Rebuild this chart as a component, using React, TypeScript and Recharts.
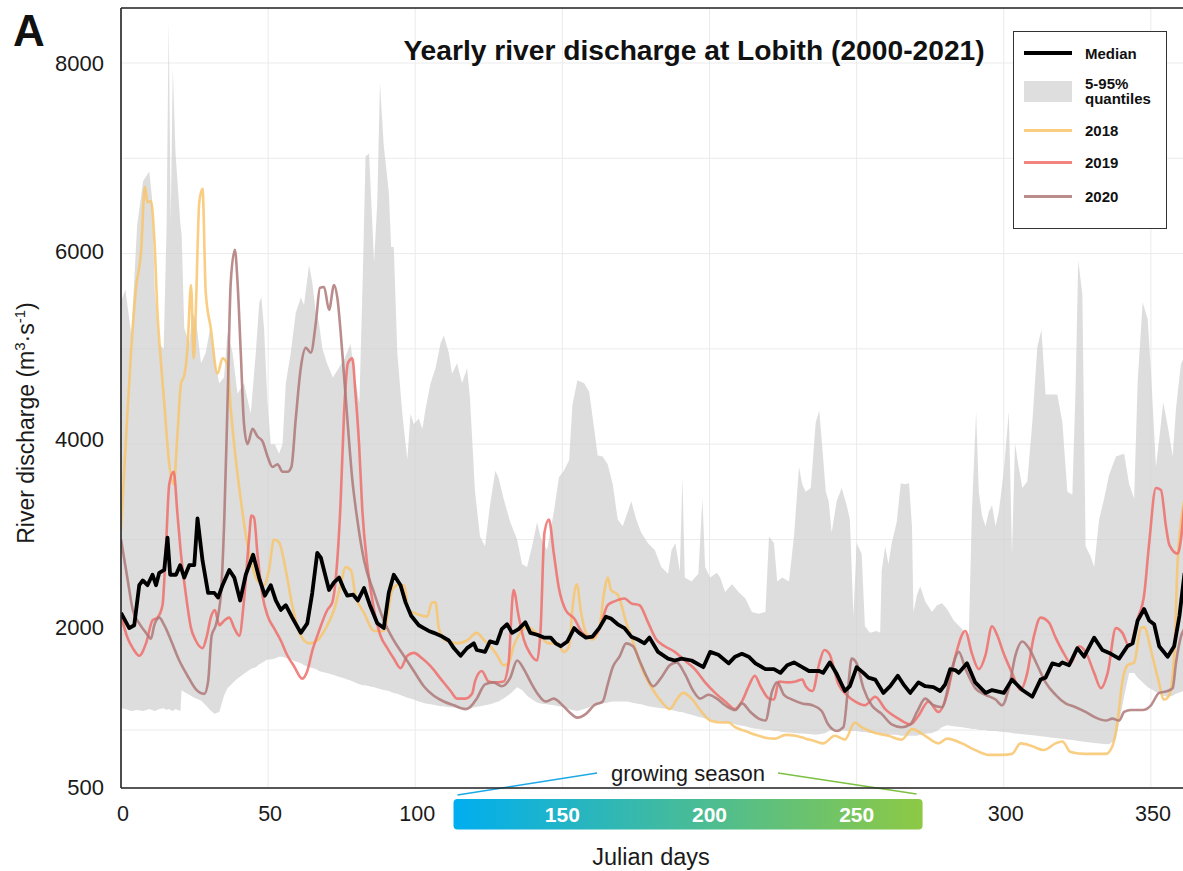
import React from 'react';
import {
  ComposedChart,
  Line,
  Area,
  XAxis,
  YAxis,
  CartesianGrid,
  Legend,
  ReferenceArea,
  ReferenceLine,
} from 'recharts';

const FONT = '"Liberation Sans", Arial, Helvetica, sans-serif';

// Rhine discharge at Lobith: [julian day, m3/s]
const median: [number, number][] = [
  [0, 2230], [2.8, 2070], [4.5, 2100], [6.2, 2520], [7.4, 2570], [9, 2520], [10.7, 2630], [11.9, 2520],
  [13, 2650], [14.7, 2680], [15.8, 3020], [16.7, 2630], [18.7, 2630], [20.1, 2730], [21.5, 2600],
  [23.2, 2730], [24.9, 2730], [26, 3220], [27.7, 2780], [29.6, 2440], [31.7, 2440], [33, 2390],
  [34.5, 2520], [36.8, 2680], [38.5, 2600], [40.5, 2360], [42.4, 2630], [44.9, 2840], [46.9, 2600],
  [48.9, 2410], [50.9, 2520], [52.6, 2360], [54.3, 2260], [56, 2310], [58.2, 2180], [61.1, 2020],
  [63.3, 2120], [65, 2440], [66.7, 2860], [67.9, 2810], [69.2, 2650], [70.7, 2470], [72.4, 2550],
  [74.1, 2600], [75.6, 2490], [76.9, 2410], [78.9, 2420], [80.5, 2360], [82.6, 2490], [84.6, 2310],
  [87.1, 2120], [89.3, 2070], [91, 2440], [92.7, 2630], [95, 2520], [96.7, 2340], [98.6, 2200],
  [101.2, 2100], [102.9, 2070], [104.6, 2040], [106.3, 2020], [108.6, 1990], [111.4, 1940],
  [113.1, 1860], [115.4, 1780], [117.6, 1860], [119.9, 1910], [120.9, 1840], [123.7, 1820],
  [125.4, 1930], [127.7, 1910], [129.4, 2060], [131.2, 2110], [132.9, 2020], [135.1, 2060],
  [137.4, 2130], [139.1, 2020], [141.4, 2000], [143.7, 1970], [146, 1970], [147.7, 1910], [149.4, 1880],
  [151.7, 1930], [154, 2070], [155.7, 2020], [158, 1970], [160.2, 1980], [162.5, 2070], [164.8, 2190],
  [166.5, 2170], [168.8, 2110], [171.1, 2070], [173.4, 1980], [175.6, 1950], [177.9, 1910],
  [179.6, 1970], [182.5, 1820], [185.9, 1750], [188.2, 1730], [190.5, 1750], [193.9, 1730],
  [197.9, 1660], [200.2, 1820], [203, 1790], [206.5, 1700], [208.7, 1770], [211, 1800], [213.3, 1770],
  [215.6, 1700], [219, 1640], [221.9, 1640], [224.1, 1600], [226.4, 1680], [228.7, 1710], [231.5, 1660],
  [233.8, 1620], [237.3, 1620], [238.6, 1600], [240.9, 1710], [243.2, 1590], [246, 1410], [247.7, 1460],
  [250, 1660], [252.3, 1600], [254, 1550], [256.3, 1530], [259.1, 1390], [261.4, 1460], [264, 1570],
  [265.9, 1480], [268.2, 1390], [271, 1500], [273.3, 1460], [276.1, 1450], [278.4, 1410], [280.1, 1480],
  [281.8, 1640], [283.5, 1630], [284.7, 1600], [287.5, 1700], [290.3, 1500], [293.8, 1390], [296, 1420],
  [300, 1390], [302.8, 1530], [306.3, 1420], [309.7, 1350], [312.5, 1530], [314.2, 1550], [316.5, 1700],
  [318.8, 1680], [319.9, 1710], [322.2, 1680], [325, 1860], [327.3, 1770], [330.7, 1970], [333.5, 1840],
  [336.4, 1800], [339.2, 1750], [342, 1880], [343.8, 1910], [345.5, 2150], [347.7, 2270], [349.4, 2150],
  [351.1, 2110], [352.8, 1880], [355.7, 1770], [357.9, 1880], [359.7, 2200], [361.4, 2640], [363, 2560],
  [366, 2520],
];

const year2018: [number, number][] = [
  [0, 3100], [1.7, 4060], [3.4, 4960], [5.1, 5640], [6.8, 6010], [8.1, 6700], [9, 6540], [10.2, 6550],
  [11.3, 6170], [12.4, 5380], [13.6, 4850], [14.7, 4430], [16.4, 3790], [17.9, 3580], [19.2, 4110],
  [20.4, 4640], [21.5, 4720], [22.6, 5010], [23.8, 5670], [24.7, 4900], [25.4, 5380], [26.6, 6540],
  [27.7, 6680], [28.8, 5590], [30.5, 5220], [32.8, 4740], [34.5, 4900], [36, 4850], [37.3, 4370],
  [39, 3840], [40.7, 3420], [42.4, 3050], [44.1, 2780], [46.4, 2570], [48.6, 2520], [50.3, 2680],
  [52, 3000], [53.7, 2970], [56, 2680], [58.2, 2310], [61.1, 1990], [63.9, 1910], [66.7, 1940],
  [69.6, 2070], [72.4, 2260], [74.6, 2520], [76.3, 2710], [78.1, 2680], [79.7, 2410], [82.6, 2230],
  [86, 2040], [89.3, 2040], [92.2, 2470], [93.9, 2520], [96.1, 2520], [97.8, 2260], [101.2, 2210],
  [104, 2190], [105.7, 2340], [106.9, 2340], [108, 2070], [110.3, 1940], [114.2, 1910], [117.6, 1940],
  [120.9, 2020], [123.2, 1950], [125.4, 1880], [127.7, 1790], [130, 1680], [131.7, 1700], [133.4, 1880],
  [135.7, 2020], [138, 2090], [140.3, 2040], [142.6, 1980], [145.4, 1910], [148.3, 1910], [150.5, 1820],
  [152.3, 1880], [153.4, 2270], [154.9, 2530], [156.3, 2240], [158, 2020], [160.2, 1950], [162.5, 2060],
  [164.2, 2450], [165.4, 2600], [166.5, 2470], [168.8, 2420], [171.7, 2130], [174.5, 1880],
  [177.4, 1620], [180.8, 1420], [183.6, 1300], [186.5, 1220], [188.8, 1320], [191.1, 1390],
  [193.9, 1330], [197.3, 1190], [200.2, 1100], [203.6, 1080], [206.5, 1080], [208.7, 1030], [212.2, 990],
  [215.6, 950], [219, 920], [222.4, 910], [225.9, 950], [229.3, 940], [232.7, 910], [236.1, 880],
  [238.6, 860], [242.6, 940], [246, 900], [249.4, 1080], [251.7, 1030], [256.3, 970], [260.8, 940],
  [265.3, 900], [268.8, 1010], [273.3, 940], [277.8, 860], [280.7, 910], [285.8, 860], [290.3, 790],
  [294.9, 740], [299.4, 740], [302.8, 750], [305.7, 860], [309.7, 830], [313.6, 790], [317.6, 860],
  [319.9, 880], [322.7, 770], [327.8, 750], [334.7, 750], [336.9, 830], [338.6, 1080], [340.3, 1510],
  [342, 1680], [344.3, 1710], [346.6, 2070], [347.7, 2080], [350, 1840], [352.3, 1550], [354.5, 1320],
  [356.3, 1370], [358, 1840], [359.1, 2780], [361.4, 3430], [364, 3900],
];

const year2019: [number, number][] = [
  [0, 2200], [2.3, 1960], [4, 1860], [6.2, 1780], [8.5, 1910], [10.7, 2150], [12.4, 2180], [14.1, 2310],
  [15.3, 2940], [16.4, 3580], [17.9, 3710], [19.2, 3260], [20.4, 2840], [22.1, 2410], [23.8, 2070],
  [25.4, 1940], [27.7, 1860], [29.2, 1990], [30.5, 2180], [31.9, 2260], [33.4, 2100], [35.1, 2150],
  [36.8, 2180], [38.5, 2070], [40.2, 1990], [41.8, 2360], [43.5, 3000], [44.3, 3250], [45.2, 3230],
  [46.4, 2840], [48.1, 2410], [49.8, 2200], [52, 2070], [54.3, 1940], [56.6, 1780], [58.8, 1670],
  [61.6, 1540], [63.3, 1620], [65, 1830], [67.3, 2040], [70.1, 2260], [71.8, 2340], [73.5, 2780],
  [74.6, 3370], [75.8, 4320], [77.1, 4850], [78.6, 4900], [79.7, 4530], [80.9, 4000], [82, 3310],
  [83.7, 2730], [86, 2260], [88.2, 1990], [90.5, 1860], [92.7, 1750], [95, 1650], [97.3, 1780],
  [99.5, 1810], [102.4, 1750], [105.2, 1670], [108.6, 1540], [112, 1410], [114.2, 1330], [117, 1330],
  [119.3, 1380], [120.3, 1510], [122.6, 1620], [124.9, 1510], [127.2, 1500], [130, 1510], [131.7, 1700],
  [133.4, 2470], [135.1, 2200], [136.9, 1950], [139.1, 1800], [141.4, 1730], [142.6, 2060], [143.9, 3070],
  [145.4, 3210], [147.1, 2850], [148.8, 2490], [151.1, 2260], [154, 2170], [156.8, 2020], [159.7, 1970],
  [162.5, 2060], [165.4, 2310], [167.7, 2350], [171.1, 2380], [173.4, 2330], [176.2, 2310], [179.1, 2130],
  [181.9, 1950], [184.8, 1880], [188.2, 1820], [191.6, 1730], [195, 1640], [198.5, 1500], [201.9, 1390],
  [205.3, 1300], [208.7, 1220], [211, 1300], [213.3, 1460], [215.4, 1570], [217.3, 1460], [220.2, 1330],
  [221.9, 1320], [223.6, 1510], [226.4, 1500], [229.3, 1510], [231.5, 1530], [232.7, 1460], [235, 1410],
  [237.3, 1700], [239, 1840], [240.7, 1800], [243.8, 1480], [246.6, 1370], [249.4, 1300], [252.8, 1260],
  [256.3, 1350], [259.7, 1220], [264.2, 1120], [268.2, 1060], [271, 1150], [274.4, 1300], [277.8, 1190],
  [280.7, 1370], [283.5, 1770], [286.9, 2040], [289.2, 1800], [291.5, 1640], [293.8, 1790], [296, 2090],
  [297.7, 2000], [300, 1800], [302.8, 1600], [305.7, 1420], [307.9, 1590], [310.2, 1980], [312.5, 2180],
  [315.3, 2130], [317.6, 1970], [320.5, 1800], [322.7, 1700], [325.6, 1880], [327.8, 1820], [330.7, 1600],
  [333, 1440], [335.3, 1600], [338.1, 2070], [340.3, 2020], [342.6, 1880], [345.5, 2170], [347.7, 2420],
  [349.4, 2960], [351.7, 3540], [353.4, 3520], [355.1, 3140], [356.3, 2940], [359.1, 2850], [360.2, 3000],
  [361.8, 3500], [364, 3800],
];

const year2020: [number, number][] = [
  [0, 3000], [2.3, 2570], [4, 2260], [6.2, 2120], [8.5, 2020], [10.2, 1960], [11.3, 2100], [13, 2180],
  [14.7, 2100], [17, 1940], [19.8, 1730], [22.6, 1570], [25.4, 1430], [28.3, 1380], [29.6, 1510],
  [30.8, 1990], [32.2, 2100], [33.9, 2410], [35.1, 3210], [36.2, 4430], [37.3, 5700], [38.7, 6040],
  [39.6, 5700], [40.7, 4960], [41.8, 4210], [43, 4000], [44.7, 4160], [46.4, 4080], [48.1, 4030],
  [49.8, 3870], [51.5, 3760], [53.2, 3790], [54.9, 3710], [56.6, 3710], [57.9, 3760], [59.4, 4270],
  [61.1, 4800], [62.8, 5010], [64.5, 4960], [66.2, 5270], [67.6, 5640], [69, 5650], [70.7, 5410],
  [72.4, 5670], [73.5, 5540], [75.2, 4960], [76.9, 4270], [78.6, 3630], [80.3, 3210], [82.6, 2780],
  [86, 2440], [89.3, 2150], [92.7, 1940], [96.1, 1780], [99.5, 1620], [102.9, 1460], [106.3, 1360],
  [109.7, 1300], [113.1, 1260], [117, 1220], [118.6, 1240], [120.9, 1330], [123.7, 1480], [126.6, 1500],
  [129.4, 1460], [132.3, 1550], [134.6, 1730], [136.9, 1640], [139.1, 1510], [141.4, 1390], [144.3, 1300],
  [147.1, 1330], [149.4, 1280], [152.3, 1190], [155.1, 1130], [158, 1170], [160.8, 1260], [163.7, 1300],
  [165.4, 1480], [167.1, 1660], [169.4, 1770], [171.7, 1910], [174, 1880], [176.2, 1730], [178.5, 1570],
  [180.8, 1460], [183.6, 1550], [186.5, 1680], [188.8, 1710], [191.6, 1590], [194.5, 1410], [196.8, 1330],
  [199.6, 1370], [202.5, 1330], [205.3, 1260], [208.7, 1210], [211, 1280], [213.9, 1190], [216.7, 1120],
  [219, 1100], [221.3, 1410], [223, 1500], [225.3, 1370], [228.1, 1320], [231.5, 1280], [235, 1260],
  [238.1, 1200], [240.3, 1060], [243.2, 990], [245.5, 1030], [247.2, 1480], [248.3, 1750], [250, 1700],
  [252.3, 1440], [255.1, 1260], [258.5, 1170], [261.9, 1060], [265.3, 1030], [268.2, 1060], [270.5, 1190],
  [273.3, 1330], [276.1, 1260], [279, 1240], [281.3, 1480], [283, 1710], [284.7, 1820], [287, 1640],
  [290.3, 1440], [293.8, 1370], [297.2, 1320], [299.4, 1260], [301.7, 1440], [304, 1790], [306.3, 1930],
  [308.5, 1860], [311.4, 1680], [314.2, 1500], [317.6, 1370], [321, 1280], [324.4, 1240], [327.8, 1190],
  [331.3, 1130], [334.7, 1100], [336.9, 1120], [339.2, 1100], [340.9, 1190], [343.2, 1210], [347.2, 1210],
  [350, 1260], [352.8, 1390], [355.7, 1410], [357.4, 1440], [358.5, 1700], [360.2, 1980], [361.8, 2090],
  [364, 2300],
];

// 5-95% quantile band: [julian day, q05, q95]
const quantiles: [number, number, number][] = [
  [0, 1230, 5500], [1.5, 1220, 5620], [3.5, 1200, 5150], [5.5, 1210, 6300], [7.5, 1200, 6760],
  [9.6, 1220, 6860], [10.5, 1210, 6600], [11.5, 1200, 5600], [13, 1220, 5050], [14.5, 1230, 5000],
  [15.5, 1210, 6300], [16.2, 1220, 8450], [16.9, 1210, 6330], [17.6, 1200, 7950], [18.5, 1220, 7070],
  [20.2, 1200, 6300], [20.6, 1420, 6200], [21.5, 1400, 5220], [23.2, 1370, 5060], [24.3, 1350, 5380],
  [25.5, 1330, 5300], [27.2, 1310, 4850], [28.8, 1260, 4960], [30.3, 1210, 5220], [31.7, 1170, 4900],
  [33.4, 1190, 4640], [35, 1360, 4700], [36.2, 1440, 5170], [37.9, 1490, 4960], [39.6, 1540, 4530],
  [41.8, 1590, 4640], [44.1, 1640, 4320], [45.8, 1660, 4960], [47, 1690, 5490], [47.7, 1700, 5540],
  [48.6, 1720, 5220], [49.8, 1740, 4430], [50.9, 1740, 4000], [52.3, 1750, 4000], [53.7, 1770, 3900],
  [54.9, 1770, 4000], [56, 1760, 4640], [57.7, 1740, 4960], [59.4, 1720, 5380], [61.1, 1700, 5540],
  [62.2, 1680, 5460], [63.9, 1660, 5880], [65, 1650, 5700], [66.2, 1640, 5380], [67.3, 1620, 5270],
  [68.4, 1610, 5010], [70, 1600, 4850], [72, 1580, 4700], [74, 1560, 4800], [76, 1540, 4900],
  [78, 1520, 5050], [79.5, 1500, 4700], [81, 1480, 4430], [82.2, 1470, 5800], [83.1, 1470, 7020],
  [84.3, 1460, 7050], [86, 1450, 5910], [87.1, 1440, 6540], [88, 1430, 7790], [89.3, 1420, 7130],
  [91, 1410, 6650], [91.8, 1400, 6070], [92.7, 1390, 6070], [93.9, 1380, 4960], [95.6, 1360, 4320],
  [97.3, 1340, 3840], [98.4, 1330, 4320], [99.5, 1320, 4210], [101.2, 1300, 4270], [102.4, 1290, 4160],
  [103.5, 1280, 4370], [105.2, 1270, 4640], [106.9, 1260, 4800], [108.6, 1250, 5060], [109.7, 1250, 5140],
  [111.4, 1240, 4960], [112.5, 1240, 4740], [114.2, 1230, 4850], [115.9, 1220, 4640], [117.6, 1220, 4800],
  [118.6, 1230, 4480], [120.3, 1240, 3500], [122, 1250, 3030], [123.7, 1260, 2930], [125.4, 1270, 3360],
  [127.2, 1290, 3720], [128.3, 1300, 3650], [130, 1330, 3430], [132.3, 1380, 3180], [134.6, 1450, 3000],
  [136.3, 1420, 2740], [138, 1360, 2710], [139.7, 1320, 2930], [141.4, 1290, 3180], [142.6, 1280, 3020],
  [144.8, 1270, 2890], [147.1, 1260, 3290], [148.8, 1250, 3650], [150.5, 1240, 3720], [152.3, 1220, 3830],
  [153.4, 1210, 4410], [155.1, 1200, 4670], [157.4, 1220, 4640], [159.1, 1240, 4550], [160.8, 1260, 4160],
  [162, 1270, 3880], [163.7, 1280, 3870], [165.4, 1290, 3790], [167.1, 1300, 3580], [168.8, 1300, 3210],
  [170.5, 1300, 3140], [172.2, 1300, 3290], [173.4, 1290, 3400], [175.1, 1280, 3210], [176.8, 1270, 3070],
  [179.1, 1250, 2960], [181.4, 1240, 2890], [183.6, 1230, 2710], [185.9, 1220, 2640], [187.1, 1210, 2890],
  [188.4, 1200, 2960], [189.9, 1190, 2670], [190.8, 1190, 3650], [191.6, 1180, 2600], [193.9, 1160, 2560],
  [196.2, 1140, 2640], [197.6, 1130, 3430], [198.5, 1120, 2710], [200.2, 1110, 2600], [202.5, 1090, 2650],
  [203.6, 1090, 2600], [205.3, 1080, 2450], [207.6, 1070, 2530], [209.9, 1050, 2450], [212.2, 1040, 2380],
  [214.4, 1020, 2240], [216.7, 1010, 2220], [219, 1000, 2240], [220.2, 1000, 3030], [221.9, 990, 2960],
  [223, 990, 2560], [224.7, 980, 2600], [227, 975, 2560], [228.7, 970, 3030], [230.4, 965, 3760],
  [231.5, 965, 3580], [232.7, 960, 3500], [234.4, 955, 3540], [236.1, 950, 4230], [237.3, 955, 4350],
  [238.4, 960, 3940], [239.5, 970, 3500], [240.5, 990, 3400], [241.5, 1000, 3070], [243.2, 1000, 3400],
  [244.9, 1000, 3540], [246.6, 990, 3360], [247.7, 990, 3210], [248.9, 990, 2200], [250, 990, 2960],
  [251.7, 980, 2850], [252.8, 980, 2090], [254.5, 970, 2020], [256.8, 970, 2040], [258, 960, 2020],
  [258.5, 960, 2670], [259.7, 960, 2930], [260.8, 950, 2740], [261.9, 950, 2960], [263.6, 950, 3180],
  [265, 940, 3590], [266.5, 940, 3580], [267.8, 940, 3590], [268.8, 940, 3140], [269.3, 940, 2240],
  [270.5, 940, 2420], [271.6, 950, 2510], [273.3, 960, 2350], [275.6, 970, 2240], [277.3, 990, 2310],
  [279, 1030, 2330], [280.7, 1050, 2270], [283, 1040, 2150], [285.8, 1030, 2060], [288.1, 1020, 1980],
  [289.2, 1010, 3320], [290.6, 1010, 4340], [291.5, 1000, 3500], [292.6, 1000, 3250], [293.8, 1000, 3140],
  [294.9, 990, 3290], [296, 990, 3360], [297.2, 990, 3140], [298.3, 985, 3290], [300, 980, 3720],
  [301.7, 975, 4340], [302.8, 970, 2850], [303.8, 965, 4010], [304.9, 960, 3790], [306.3, 955, 3540],
  [308, 950, 3610], [309.7, 945, 4230], [311.4, 940, 5020], [312.8, 935, 5200], [314.2, 930, 4520],
  [316.5, 920, 4520], [318.2, 915, 4520], [319.9, 910, 4230], [321.6, 900, 3500], [323.3, 895, 3470],
  [324.4, 890, 4590], [325.3, 885, 5930], [326.7, 880, 5570], [327.8, 875, 2930], [329.5, 870, 2820],
  [330.7, 865, 2710], [332.4, 860, 3210], [334.1, 855, 3430], [335.8, 850, 3680], [338.1, 900, 3870],
  [340.9, 1350, 3900], [342.6, 1600, 3580], [344.3, 1600, 3430], [345.5, 1550, 4660], [347.2, 1500, 5490],
  [348.9, 1450, 5310], [350, 1430, 4770], [351.7, 1400, 3760], [352.8, 1380, 4050], [354.2, 1360, 4440],
  [355.7, 1350, 4190], [357.4, 1360, 3870], [358.5, 1380, 4370], [360.2, 1400, 4840], [361.8, 1420, 4950],
  [364, 1440, 4800],
];

const xTicks = [0, 50, 100, 150, 200, 250, 300, 350];
const seasonTicks = [150, 200, 250];
const yTicks = [392, 1000, 2000, 3000, 4000, 5000, 6000, 7000, 8000];
const yLabels: Record<number, string> = { 392: '500', 2000: '2000', 4000: '4000', 6000: '6000', 8000: '8000' };
const Y_MIN = 392;
const Y_MAX = 8577;
const SEASON_START = 113;
const SEASON_END = 272.4;

const years = [
  { name: '2018', color: '#F8C46C', points: year2018 },
  { name: '2019', color: '#EF6E6B', points: year2019 },
  { name: '2020', color: '#AE7878', points: year2020 },
];

const toRows = (pts: [number, number][]) => pts.map(([day, q]) => ({ day, q }));
const bandRows = quantiles.map(([day, lo, hi]) => ({ day, range: [lo, hi] }));

const XTick = ({ x, y, payload }: any) => {
  if (seasonTicks.includes(payload.value)) return <g />;
  return (
    <text x={x + 2} y={y + 25} dy="0.36em" textAnchor="middle" fontSize={21.5} fill="#1a1a1a" fontFamily={FONT}>
      {payload.value}
    </text>
  );
};

const YTick = ({ x, y, payload }: any) => {
  const label = yLabels[payload.value];
  if (!label) return <g />;
  // the printed labels sit slightly above their grid lines in the original
  const lift = payload.value >= 2000 ? (8000 - payload.value) * 0.00127 : 1;
  return (
    <text x={x - 17} y={y - lift} dy="0.36em" textAnchor="end" fontSize={22} fill="#1a1a1a" fontFamily={FONT}>
      {label}
    </text>
  );
};

const YLabel = () => (
  <text transform="translate(34, 423) rotate(-90)" textAnchor="middle" fontSize={23} fill="#1a1a1a" fontFamily={FONT}>
    River discharge (m<tspan dy={-9} fontSize={15}>3</tspan>
    <tspan dy={9}>·s</tspan>
    <tspan dy={-9} fontSize={15}>-1</tspan>
    <tspan dy={9}>)</tspan>
  </text>
);

const XLabel = ({ viewBox }: any) => (
  <text x={viewBox.x + 530} y={viewBox.y + 69} dy="0.36em" textAnchor="middle" fontSize={23.5} fill="#1a1a1a" fontFamily={FONT}>
    Julian days
  </text>
);

// gradient bar with the growing-season ticks, drawn from the ReferenceArea rect
const SeasonBar = (props: any) => {
  const { x, y, width, height } = props;
  const cx = x + width / 2;
  const span = SEASON_END - SEASON_START;
  return (
    <g fontFamily={FONT}>
      <defs>
        <linearGradient id="seasonGrad" x1="0" y1="0" x2="1" y2="0">
          <stop offset="0%" stopColor="#00AEEF" />
          <stop offset="100%" stopColor="#8DC944" />
        </linearGradient>
      </defs>
      <rect x={x} y={y} width={width} height={height} rx={4} ry={4} fill="url(#seasonGrad)" />
      {seasonTicks.map((t) => (
        <text
          key={t}
          x={x + ((t - SEASON_START) / span) * width}
          y={y + height / 2}
          dy="0.36em"
          textAnchor="middle"
          fontSize={21}
          fontWeight={700}
          fill="#fff"
        >
          {t}
        </text>
      ))}
      <line x1={x + 4} y1={y - 4} x2={cx - 91} y2={y - 26} stroke="#1AA8E6" strokeWidth={1.5} />
      <text x={cx} y={y - 26} dy="0.36em" textAnchor="middle" fontSize={22} fill="#1a1a1a">
        growing season
      </text>
      <line x1={cx + 90} y1={y - 26} x2={x + width - 6} y2={y - 5} stroke="#7CC142" strokeWidth={1.5} />
    </g>
  );
};

const legendRow = (top: number, mark: React.ReactNode, label: React.ReactNode) => (
  <div style={{ position: 'absolute', left: 10, top: top - 15, height: 30, display: 'flex', alignItems: 'center' }}>
    <div style={{ width: 48, display: 'flex', alignItems: 'center' }}>{mark}</div>
    <div style={{ marginLeft: 13, lineHeight: '15px' }}>{label}</div>
  </div>
);

const LegendBox = () => (
  <div
    style={{
      position: 'relative',
      boxSizing: 'border-box',
      width: 154,
      height: 198,
      border: '1.5px solid #333',
      background: '#fff',
      fontFamily: FONT,
      fontWeight: 700,
      fontSize: 15,
      color: '#111',
    }}
  >
    {legendRow(21, <div style={{ width: 48, height: 3.5, background: '#000' }} />, 'Median')}
    {legendRow(59, <div style={{ width: 48, height: 21, background: '#dedede' }} />, (
      <span>5-95%<br />quantiles</span>
    ))}
    {years.map((s, i) =>
      <React.Fragment key={s.name}>
        {legendRow([98.5, 130.5, 164.5][i], <div style={{ width: 48, height: 3, background: s.color, opacity: 0.85 }} />, s.name)}
      </React.Fragment>
    )}
  </div>
);

export default function App() {
  return (
    <div style={{ position: 'absolute', left: 0, top: 0, width: 1183, height: 871, overflow: 'hidden', background: '#fff' }}>
      <ComposedChart width={1198} height={871} margin={{ top: 8, right: 0, bottom: 0, left: 0 }}>
        <CartesianGrid stroke="#ebebeb" strokeWidth={1} />
        <XAxis
          dataKey="day"
          type="number"
          domain={[0, 366]}
          ticks={xTicks}
          interval={0}
          allowDataOverflow
          height={83}
          axisLine={{ stroke: '#222', strokeWidth: 1.6 }}
          tickLine={false}
          tickSize={0}
          tickMargin={0}
          tick={XTick}
          label={{ content: XLabel }}
        />
        <YAxis
          type="number"
          domain={[Y_MIN, Y_MAX]}
          ticks={yTicks}
          interval={0}
          allowDataOverflow
          width={121}
          axisLine={{ stroke: '#222', strokeWidth: 1.6 }}
          tickLine={false}
          tickSize={0}
          tickMargin={0}
          tick={YTick}
          label={{ content: YLabel }}
        />
        <Area
          data={bandRows}
          dataKey="range"
          type="linear"
          stroke="none"
          fill="#cfcfcf"
          fillOpacity={0.7}
          isAnimationActive={false}
        />
        {years.map((s) => (
          <Line
            key={s.name}
            data={toRows(s.points)}
            dataKey="q"
            name={s.name}
            type="monotone"
            stroke={s.color}
            strokeOpacity={0.85}
            strokeWidth={2.6}
            dot={false}
            isAnimationActive={false}
          />
        ))}
        <Line
          data={toRows(median)}
          dataKey="q"
          name="Median"
          type="linear"
          stroke="#000"
          strokeWidth={3.8}
          strokeLinejoin="round"
          dot={false}
          isAnimationActive={false}
        />
        <ReferenceLine y={Y_MAX} stroke="#222" strokeWidth={1.6} ifOverflow="visible" />
        <ReferenceArea
          x1={SEASON_START}
          x2={SEASON_END}
          y1={-44}
          y2={277}
          ifOverflow="visible"
          shape={SeasonBar}
        />
        <Legend
          layout="vertical"
          align="center"
          verticalAlign="middle"
          content={LegendBox}
          wrapperStyle={{ left: 1013, top: 31, width: 154, height: 198 }}
        />
      </ComposedChart>
      <div
        style={{
          position: 'absolute',
          left: 13,
          top: 9,
          fontFamily: FONT,
          fontWeight: 700,
          fontSize: 44,
          lineHeight: '44px',
          color: '#111',
        }}
      >
        A
      </div>
      <div
        style={{
          position: 'absolute',
          left: 344,
          width: 700,
          top: 36,
          textAlign: 'center',
          fontFamily: FONT,
          fontWeight: 700,
          fontSize: 28.2,
          lineHeight: '28px',
          color: '#111',
        }}
      >
        Yearly river discharge at Lobith (2000-2021)
      </div>
    </div>
  );
}
